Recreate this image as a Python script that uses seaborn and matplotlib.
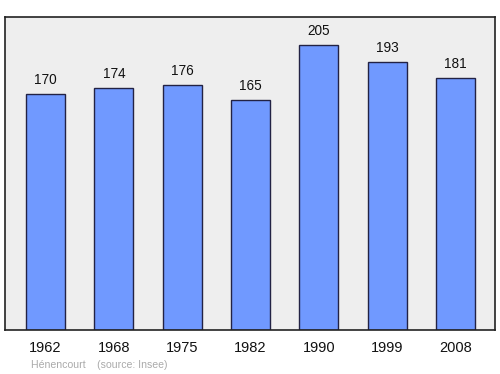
import matplotlib
matplotlib.use("Agg")
import matplotlib.pyplot as plt
import seaborn as sns
import pandas as pd

years = ["1962", "1968", "1975", "1982", "1990", "1999", "2008"]
population = [170, 174, 176, 165, 205, 193, 181]

sns.set_style("white")
plt.rcParams['font.family'] = ['Liberation Sans', 'DejaVu Sans']

df = pd.DataFrame({"year": years, "pop": population})

fig = plt.figure(figsize=(5, 3.74), dpi=100)
ax = fig.add_axes([0.01, 0.1176, 0.98, 0.837])
ax.set_facecolor("#eeeeee")
sns.barplot(data=df, x="year", y="pop", color="#7099ff", saturation=1,
            width=0.57, edgecolor="#222244", linewidth=1, ax=ax)
for p, v in zip(ax.patches, population):
    ax.text(p.get_x() + p.get_width() / 2, v + 5, str(v), ha="center",
            va="bottom", fontsize=9.8, color="#111111")
ax.set_xlim(-0.593, 6.58)
ax.set_ylim(0, 225)
ax.set_yticks([])
ax.set_xlabel("")
ax.set_ylabel("")
ax.tick_params(axis="x", length=0, labelsize=10.5, pad=8, colors="#111111")
for s in ax.spines.values():
    s.set_visible(True)
    s.set_color("#222222")
    s.set_linewidth(1.2)
fig.text(0.062, 0.017, "Hénencourt    (source: Insee)", fontsize=7.6, color="#aaaaaa")
fig.savefig("out.png", dpi=100)
